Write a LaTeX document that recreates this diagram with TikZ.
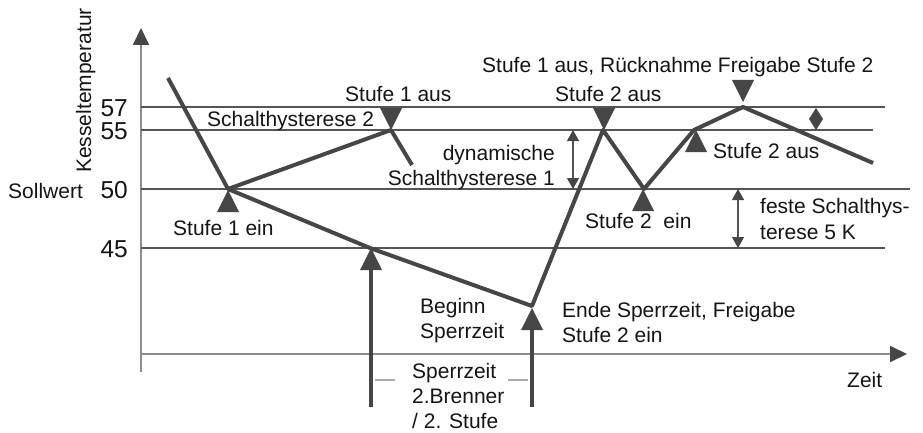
\documentclass[tikz,border=0pt]{standalone}
\usepackage{fontspec}
\setmainfont{Liberation Sans}
\usetikzlibrary{arrows.meta}
\definecolor{inkGray}{HTML}{151515}
\definecolor{curveGray}{HTML}{464646}
\definecolor{levelGray}{HTML}{555555}
\definecolor{axisGray}{HTML}{8C8C8C}
\definecolor{dashGray}{HTML}{AAAAAA}
\newcommand{\downMark}[1]{%%
  %% A triangle pointing down, tip at #1.
  \fill[markStyle] (#1) -- ++(-11,-22) -- ++(22,0) -- cycle;
}
\newcommand{\upMark}[1]{%%
  %% A triangle pointing up, tip at #1.
  \fill[markStyle] (#1) -- ++(-11,22) -- ++(22,0) -- cycle;
}
\newcommand{\levelLine}[3]{%%
  \coordinate (l#1a) at (\xaxis,#2);
  \coordinate (l#1b) at (#3,#2);
  \draw[levelStyle] (l#1a) -- (l#1b);
  \node[numStyle] (n#1) at (128,#2+9.5) {#1};
}
\newcommand{\txt}[3]{%%
  \node[textStyle] (#1) at (#2) {#3};
}

\begin{document}
\begin{tikzpicture}[x=1pt,y=-1pt,%%
  axisStyle/.style={axisGray,line width=2pt,-{Triangle[width=16pt,length=17pt,color=curveGray]}},%%
  levelStyle/.style={levelGray,line width=2pt},%%
  curveStyle/.style={curveGray,line width=4pt,line join=round},%%
  barStyle/.style={curveGray,line width=4pt},%%
  hystStyle/.style={levelGray,line width=1.3pt,{Triangle[width=12pt,length=11pt,color=curveGray]}-{Triangle[width=12pt,length=11pt,color=curveGray]}},%%
  dashStyle/.style={dashGray,line width=2pt},%%
  markStyle/.style={fill=curveGray},%%
  textStyle/.style={inkGray,inner sep=0pt,anchor=base west,font=\fontsize{21}{25}\selectfont},%%
  numStyle/.style={textStyle,anchor=base east,font=\fontsize{24.5}{28}\selectfont}%%
]
\useasboundingbox (0,0) rectangle (923,433);
%%
\pgfmathsetmacro{\xaxis}{141}
\pgfmathsetmacro{\yaxis}{354}
%% The axes.
\coordinate (origin) at (\xaxis,372);
\coordinate (yend) at (\xaxis,28);
\coordinate (xstart) at (\xaxis,\yaxis);
\coordinate (xend) at (907,\yaxis);
\draw[axisStyle] (origin) -- (yend);
\draw[axisStyle] (xstart) -- (xend);
\node[textStyle,rotate=90] (ylabel) at (91,173) {Kesseltemperatur};
\txt{xlabel}{847,387}{Zeit}
%% The temperature levels.
\levelLine{57}{107}{885}
\levelLine{55}{130}{873}
\levelLine{50}{189}{910}
\levelLine{45}{248}{885}
\txt{soll}{8,198}{Sollwert}
%%
%% The boiler temperature.
\coordinate (c0) at (168,78);
\coordinate (c1) at (228,189);
\coordinate (c2) at (391,130);
\coordinate (c3) at (412,165);
\coordinate (d1) at (370,248);
\coordinate (d2) at (532,306);
\coordinate (d3) at (603,130);
\coordinate (d4) at (644,189);
\coordinate (d5) at (694,130);
\coordinate (d6) at (743,107);
\coordinate (d7) at (873,163);
\draw[curveStyle] (c0) -- (c1) -- (c2) -- (c3);
\draw[curveStyle] (c1) -- (d1) -- (d2) -- (d3) -- (d4) -- (d5) -- (d6) -- (d7);
%%
%% Switching marks.
\upMark{228,190}
\downMark{391,130}
\downMark{604,130}
\downMark{743,102}
\upMark{696,130}
\upMark{643,189}
%% The blocking time.
\coordinate (barAfoot) at (371,407);
\coordinate (barAhead) at (371,268);
\coordinate (barBfoot) at (532,407);
\coordinate (barBhead) at (532,328);
\draw[barStyle] (barAfoot) -- (barAhead);
\draw[barStyle] (barBfoot) -- (barBhead);
\upMark{371,248}
\upMark{532,308}
\coordinate (dashAa) at (375,380);
\coordinate (dashAb) at (395,380);
\coordinate (dashBa) at (508,380);
\coordinate (dashBb) at (528,380);
\draw[dashStyle] (dashAa) -- (dashAb);
\draw[dashStyle] (dashBa) -- (dashBb);
%% The hysteresis spans.
\coordinate (dynTop) at (573,130);
\coordinate (dynBot) at (573,189);
\draw[hystStyle] (dynTop) -- (dynBot);
\coordinate (festTop) at (738,189);
\coordinate (festBot) at (738,248);
\draw[hystStyle] (festTop) -- (festBot);
\coordinate (diaTop) at (816,108);
\coordinate (diaBot) at (816,130);
\fill[markStyle] (diaTop) -- (823,119) -- (diaBot) -- (809,119) -- cycle;
%%
%% Labels.
\txt{titel}{482,73}{Stufe 1 aus, Rücknahme Freigabe Stufe 2}
\txt{einsAus}{345,102}{Stufe 1 aus}
\txt{hystZwei}{207,127}{Schalthysterese 2}
\node[textStyle,anchor=base east] (dynA) at (555,160) {dynamische};
\node[textStyle,anchor=base east] (dynB) at (555,185) {Schalthysterese 1};
\txt{zweiAusOben}{555,102}{Stufe 2 aus}
\txt{zweiAusUnten}{713,158}{Stufe 2 aus}
\txt{zweiEin}{585,228}{Stufe 2\ \ ein}
\txt{festA}{760,213}{feste Schalthys-}
\txt{festB}{760,239}{terese 5 K}
\txt{einsEin}{173,235}{Stufe 1 ein}
\txt{beginnA}{420,313}{Beginn}
\txt{beginnB}{420,338}{Sperrzeit}
\txt{endeA}{562,317}{Ende Sperrzeit, Freigabe}
\txt{endeB}{562,342}{Stufe 2 ein}
\txt{sperrA}{412,378}{Sperrzeit}
\txt{sperrB}{412,403}{2.Brenner}
\txt{sperrC}{412,428}{/ 2. Stufe}
\end{tikzpicture}
\end{document}
